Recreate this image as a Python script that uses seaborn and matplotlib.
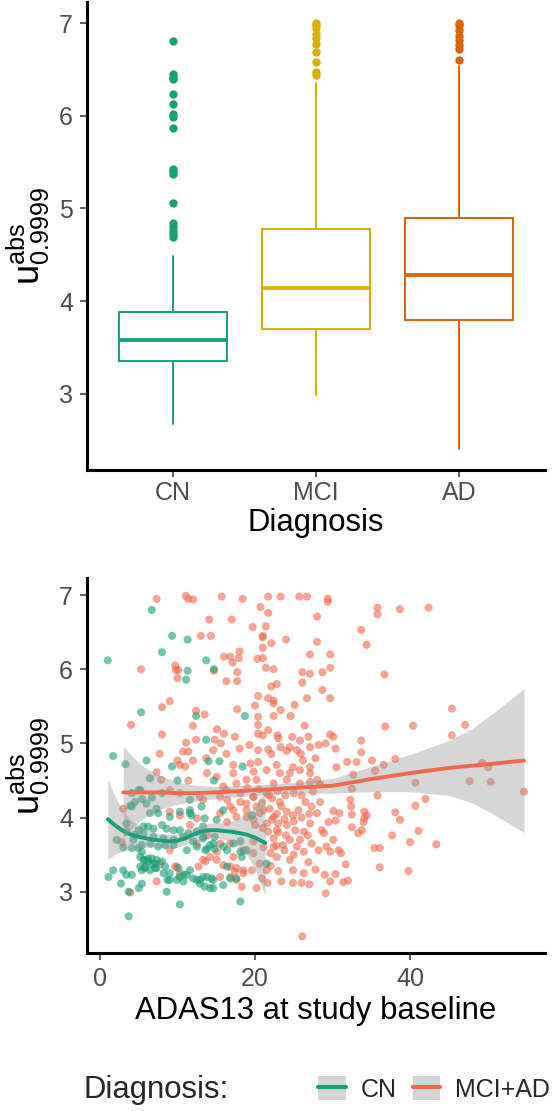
import numpy as np
import pandas as pd
import matplotlib
matplotlib.use("Agg")
import matplotlib.pyplot as plt
import seaborn as sns
from matplotlib.lines import Line2D
from matplotlib.patches import Patch
from matplotlib.legend_handler import HandlerTuple

# ---------------- data: top panel (box summaries) ----------------
box_labels = ["CN", "MCI", "AD"]
box_q1 = [3.35, 3.70, 3.79]
box_med = [3.58, 4.14, 4.28]
box_q3 = [3.88, 4.78, 4.90]
box_wlo = [2.67, 2.99, 2.40]
box_whi = [4.49, 6.35, 6.54]
cn_out = [6.81, 6.45, 6.42, 6.40, 6.24, 6.13, 6.02, 5.99, 5.87, 5.43, 5.40, 5.37,
          5.06, 4.84, 4.80, 4.76, 4.72, 4.69]
mci_out = [7.00, 6.98, 6.95, 6.88, 6.84, 6.78, 6.69, 6.58, 6.47, 6.44]
ad_out = [7.00, 6.98, 6.93, 6.86, 6.82, 6.77, 6.72, 6.60]

# ---------------- data: bottom panel scatter ----------------
cn_pts = [
    (6.67, 6.80), (9.3, 6.45), (11.3, 6.40), (8.0, 6.23), (1.0, 6.12), (13.7, 6.12),
    (11.3, 5.98), (11.1, 5.86), (5.3, 5.42), (12.4, 5.37), (13.7, 5.05), (1.7, 4.83),
    (6.0, 4.77), (3.3, 4.72), (9.3, 4.69), (14.7, 6.0), (18.7, 5.37), (14.0, 4.76),
    (15.4, 4.76), (18.4, 4.69),
    (6.45, 4.53), (10.0, 4.50), (5.4, 4.25), (6.7, 4.27), (4.1, 4.15), (4.5, 4.21),
    (6.0, 4.19), (7.3, 4.12), (9.0, 4.01), (11.6, 4.10), (11.8, 4.03), (13.1, 4.15),
    (13.5, 3.99), (3.4, 3.92), (2.15, 3.70), (3.0, 3.60), (4.1, 3.59), (5.0, 3.83),
    (5.6, 3.88), (6.2, 3.88), (6.9, 3.85), (8.0, 3.90), (8.6, 3.85), (9.5, 3.83),
    (10.3, 3.83), (11.4, 3.79), (12.5, 3.81), (13.3, 3.74), (4.3, 3.70), (5.4, 3.63),
    (6.5, 3.65), (7.5, 3.61), (8.4, 3.63), (9.5, 3.63), (11.2, 3.56), (12.5, 3.61),
    (13.6, 3.56), (5.2, 3.47), (5.6, 3.43), (6.2, 3.45), (6.7, 3.38), (7.3, 3.43),
    (8.0, 3.41), (8.4, 3.34), (5.8, 3.34), (5.4, 3.29), (7.1, 3.32), (9.0, 3.25),
    (10.1, 3.32), (10.8, 3.23), (11.6, 3.29), (12.0, 3.18), (12.9, 3.16), (13.8, 3.20),
    (1.1, 3.20), (1.7, 3.29), (3.0, 3.29), (3.4, 3.23), (4.1, 3.23), (2.7, 3.11),
    (5.4, 3.11), (5.0, 3.05), (3.7, 3.0), (8.6, 3.0), (10.3, 2.83), (3.7, 2.67),
    (8.7, 3.16), (5.2, 4.37), (4.1, 4.33), (8.0, 4.33), (11.6, 4.24),
    (14.7, 4.50), (15.9, 4.10), (15.05, 3.97), (19.6, 4.03), (13.3, 3.88), (14.8, 3.74),
    (14.2, 3.63), (13.8, 3.58), (14.8, 3.58), (16.4, 3.56), (18.1, 3.68), (18.3, 3.47),
    (21.5, 3.38), (16.4, 3.34), (13.3, 3.20), (14.4, 3.18), (14.6, 3.05), (15.9, 3.09),
    (16.8, 3.18), (17.6, 3.18), (18.1, 2.87),
    (4.95, 3.59), (5.4, 3.54), (5.8, 3.43), (6.2, 3.41), (6.7, 3.45), (7.1, 3.38),
    (5.2, 3.34), (5.8, 3.32), (6.45, 3.29), (7.3, 3.32), (8.2, 3.25), (9.0, 3.16),
    (9.9, 3.16), (10.3, 3.20), (10.75, 3.14), (11.2, 3.23), (12.5, 3.16), (12.9, 3.11),
    (13.5, 3.07), (14.2, 3.05), (14.6, 3.16), (3.4, 3.81), (4.5, 3.77), (5.6, 3.79),
    (6.9, 3.74), (8.2, 3.72), (9.5, 3.70), (10.75, 3.74), (12.0, 3.68), (13.3, 3.72),
    (14.6, 3.65), (15.9, 3.61), (17.2, 3.65), (18.1, 3.54), (18.9, 3.56),
    (5.0, 4.37), (3.9, 4.16), (6.45, 4.06), (7.5, 4.06), (10.3, 4.08), (11.6, 4.06),
]
mad_pts = [
    (7.3, 6.95), (11.06, 6.99), (11.4, 6.95), (12.0, 6.94), (14.1, 6.67), (13.0, 6.45),
    (14.3, 6.45), (5.3, 6.0), (9.7, 6.05), (9.8, 5.99), (10.1, 5.99), (10.0, 5.88),
    (9.0, 5.57), (8.0, 5.49), (12.4, 5.44), (13.5, 5.39), (4.0, 5.25), (12.0, 5.24),
    (8.0, 5.12), (12.4, 5.05), (11.1, 5.01), (7.7, 4.86), (10.7, 4.89), (11.4, 4.89),
    (10.0, 4.77), (12.0, 4.77), (13.7, 4.80), (10.3, 4.71), (11.0, 4.69),
    (15.7, 6.98), (18.4, 6.95), (21.7, 6.98), (23.3, 6.98), (25.7, 6.98), (26.7, 6.98),
    (20.7, 6.84), (17.0, 6.67), (21.7, 6.76), (28.0, 6.71), (19.7, 6.57), (21.4, 6.58),
    (21.0, 6.45), (21.0, 6.43), (22.1, 6.35), (24.0, 6.40), (21.0, 6.29), (28.0, 6.37),
    (18.0, 6.24), (16.0, 6.17), (16.8, 6.17), (17.9, 6.15), (20.3, 6.14), (21.0, 6.15),
    (17.1, 6.09), (27.1, 6.20), (14.7, 5.98), (21.4, 6.02), (22.4, 6.0), (17.7, 5.96),
    (26.1, 5.96), (27.1, 5.94), (16.3, 5.84), (17.7, 5.84), (26.1, 5.82), (22.1, 5.77),
    (22.8, 5.80), (20.4, 5.64), (21.7, 5.61), (22.4, 5.58), (22.4, 5.54), (26.7, 5.61),
    (20.0, 5.51), (25.1, 5.52), (17.7, 5.46), (20.4, 5.36), (22.4, 5.37), (24.6, 5.37),
    (23.3, 5.45), (26.4, 5.24), (20.4, 5.25), (20.4, 5.13), (21.7, 5.18), (15.1, 5.19),
    (16.0, 5.13), (17.4, 5.09), (21.0, 5.11), (22.9, 5.11), (23.0, 5.07), (24.8, 5.09),
    (25.8, 5.04), (26.9, 5.09), (14.8, 5.05), (15.6, 5.0), (18.0, 4.93), (19.3, 4.98),
    (20.4, 4.91), (21.7, 4.92), (23.3, 4.95), (24.5, 4.95), (25.4, 4.91), (27.1, 4.95),
    (28.2, 4.98), (14.6, 4.91), (16.3, 4.86), (22.1, 4.86), (24.1, 4.90), (25.9, 4.86),
    (27.8, 4.80), (26.2, 4.77), (19.4, 4.73), (17.2, 4.71), (20.4, 4.75), (22.8, 4.71),
    (24.9, 4.68), (27.1, 4.68),
    (29.4, 6.95), (29.4, 6.91), (35.8, 6.83), (35.8, 6.74), (38.7, 6.81), (42.4, 6.83),
    (33.7, 6.53), (34.4, 6.33), (29.7, 6.20), (29.7, 6.02), (28.7, 5.96), (36.7, 5.93),
    (29.7, 5.61), (28.7, 5.72), (45.4, 5.47), (36.8, 5.23), (40.4, 5.24), (47.1, 5.25),
    (45.4, 5.11), (33.7, 5.04), (33.7, 4.88), (30.4, 4.93), (29.7, 5.12), (30.1, 5.09),
    (29.1, 5.0), (38.1, 4.79), (33.1, 4.75), (35.1, 4.77), (36.6, 4.71), (30.5, 4.68),
    (31.9, 4.75), (49.3, 4.74), (50.1, 4.68), (32.7, 4.58), (35.5, 4.63),
    (28.4, 4.45), (32.5, 4.39), (35.8, 4.30), (40.7, 4.47), (47.7, 4.49), (50.4, 4.48),
    (54.7, 4.35), (42.0, 4.25), (40.7, 4.16), (38.1, 4.07), (38.7, 3.97), (41.1, 3.82),
    (37.7, 3.76), (40.0, 3.67), (43.4, 3.64), (35.4, 3.59), (36.1, 3.59), (36.1, 3.33),
    (39.8, 3.28), (28.4, 4.21), (30.1, 4.09), (30.9, 4.06), (32.3, 4.24), (32.4, 4.15),
    (32.5, 4.04), (34.1, 4.08), (34.4, 4.03), (34.0, 3.94), (34.1, 3.99), (33.3, 3.79),
    (33.8, 3.83), (32.5, 3.87), (29.5, 3.94), (30.4, 3.96), (28.6, 3.83), (28.9, 3.79),
    (30.1, 3.70), (29.2, 3.61), (29.7, 3.54), (30.8, 3.56), (31.1, 3.52), (31.7, 3.37),
    (30.4, 3.24), (29.0, 3.23), (32.0, 3.15), (31.4, 3.13), (29.7, 3.14), (29.1, 2.98),
    (26.1, 2.40),
    (7.3, 4.61), (7.9, 4.51), (11.4, 4.50), (3.0, 4.12), (9.0, 4.08), (10.3, 4.03),
    (12.5, 3.99), (7.3, 3.14), (9.7, 3.34), (10.3, 3.25), (12.7, 3.34), (13.6, 3.41),
    (3.9, 2.99), (2.8, 3.67), (9.0, 3.56), (13.8, 3.76), (11.6, 3.90), (12.5, 3.65),
    (10.3, 4.33), (9.0, 4.37), (12.9, 4.28),
    (13.8, 4.60), (15.05, 4.55), (17.2, 4.60), (19.8, 4.62), (21.5, 4.64), (23.2, 4.60),
    (24.5, 4.60), (25.8, 4.64), (27.1, 4.60), (28.0, 4.51), (13.3, 4.24), (15.9, 4.42),
    (17.6, 4.46), (18.9, 4.51), (20.2, 4.51), (22.4, 4.46), (24.1, 4.51), (25.8, 4.46),
    (27.1, 4.48), (18.1, 4.21), (18.9, 4.19), (19.8, 4.28), (20.2, 4.15), (21.1, 4.10),
    (22.2, 4.26), (23.2, 4.21), (23.4, 4.15), (24.1, 4.08), (24.9, 4.03), (25.6, 4.10),
    (26.5, 4.21), (27.3, 4.15), (28.0, 4.06), (22.2, 3.97), (23.0, 3.92), (24.1, 3.90),
    (25.2, 3.83), (26.3, 3.81), (27.1, 3.92), (21.7, 3.81), (22.4, 3.72), (23.6, 3.63),
    (23.8, 3.56), (24.5, 3.70), (25.4, 3.61), (26.3, 3.54), (27.3, 3.65), (28.2, 3.56),
    (22.8, 3.47), (24.5, 3.43), (24.9, 3.29), (23.4, 3.14), (24.9, 3.12), (26.0, 3.12),
    (26.3, 3.25), (15.5, 4.28), (16.4, 4.24), (17.2, 4.10), (18.9, 4.01), (16.4, 3.94),
    (15.5, 3.65), (16.8, 3.65), (18.5, 3.56), (19.8, 3.68), (13.3, 3.43), (14.2, 3.47),
    (15.05, 3.43), (17.2, 3.47), (16.8, 3.34), (17.6, 3.32), (15.5, 3.20), (18.3, 3.07),
    (17.4, 3.27), (18.5, 3.25), (19.6, 3.29), (20.9, 3.18),
    (7.7, 3.38), (9.9, 3.34), (15.05, 3.54), (15.9, 3.36), (16.8, 3.20), (17.6, 3.16),
    (18.5, 3.29), (19.8, 3.52), (20.6, 3.38), (21.5, 3.29), (22.4, 3.61), (22.8, 3.83),
    (15.5, 4.06), (16.8, 4.15), (17.6, 4.01), (18.9, 4.10), (19.8, 3.97), (20.6, 4.06),
    (21.5, 3.92), (22.4, 4.01), (18.1, 4.33), (19.8, 4.28), (21.5, 4.33), (16.3, 4.37),
    (19.0, 4.40), (20.5, 4.38), (21.8, 4.30), (22.9, 4.36), (23.9, 4.30), (25.0, 4.33),
    (26.0, 4.30), (27.5, 4.35), (20.9, 4.20), (21.9, 4.12), (22.8, 4.05), (23.8, 3.98),
    (25.0, 3.95), (26.0, 4.00), (27.0, 4.05), (20.0, 3.90), (21.0, 3.86), (23.0, 3.80),
    (24.0, 3.76), (25.8, 3.70), (26.8, 3.76), (21.1, 3.60), (22.0, 3.52), (22.8, 3.62),
    (25.0, 3.50), (26.9, 3.40), (27.8, 3.30), (22.0, 3.35), (23.0, 3.28), (20.2, 3.05),
    (21.6, 3.12), (27.0, 3.10),
]

# ---------------- data: smooth fits ----------------
cn_sx = [1.0, 2.0, 3.0, 4.0, 5.0, 6.0, 7.0, 8.0, 9.0, 10.0, 11.0, 12.0, 13.0, 14.0,
         15.0, 16.0, 17.0, 18.0, 19.0, 20.0, 21.3]
cn_sy = [3.98, 3.89, 3.82, 3.77, 3.74, 3.72, 3.70, 3.69, 3.68, 3.69, 3.72, 3.77, 3.81,
         3.83, 3.83, 3.82, 3.81, 3.79, 3.77, 3.73, 3.66]
cn_hi = [4.52, 4.27, 4.09, 3.97, 3.89, 3.84, 3.80, 3.78, 3.77, 3.78, 3.81, 3.86, 3.90,
         3.92, 3.93, 3.93, 3.95, 3.99, 4.05, 4.15, 4.37]
cn_lo = [3.44, 3.51, 3.55, 3.57, 3.59, 3.60, 3.60, 3.60, 3.59, 3.60, 3.63, 3.68, 3.72,
         3.74, 3.73, 3.71, 3.67, 3.59, 3.49, 3.31, 2.95]
mad_sx = [3.0, 4.0, 5.0, 6.0, 8.0, 10.0, 12.0, 15.0, 20.0, 25.0, 30.0, 35.0, 40.0,
          45.0, 48.0, 51.0, 54.7]
mad_sy = [4.34, 4.34, 4.34, 4.34, 4.34, 4.33, 4.33, 4.34, 4.37, 4.40, 4.43, 4.52, 4.60,
          4.67, 4.70, 4.73, 4.77]
mad_hi = [4.96, 4.84, 4.74, 4.66, 4.56, 4.48, 4.44, 4.42, 4.44, 4.47, 4.53, 4.69, 4.85,
          5.04, 5.20, 5.43, 5.74]
mad_lo = [3.72, 3.84, 3.94, 4.02, 4.12, 4.18, 4.22, 4.26, 4.30, 4.33, 4.33, 4.35, 4.35,
          4.30, 4.20, 4.03, 3.80]

y_ticks = [3, 4, 5, 6, 7]
x_ticks = [0, 20, 40]
legend_labels = ["CN", "MCI+AD"]

# ---------------- style ----------------
sns.set_theme(style="ticks")
plt.rcParams["font.family"] = ["Liberation Sans", "DejaVu Sans"]
plt.rcParams["mathtext.fontset"] = "custom"
plt.rcParams["mathtext.rm"] = "Liberation Sans"
plt.rcParams["mathtext.it"] = "Liberation Sans"
plt.rcParams["mathtext.default"] = "regular"

box_colors = ["#17a078", "#d6b009", "#dd6208"]
c_cn = "#1b9e77"
c_mad = "#ee6950"
tick_col = "#4d4d4d"

W, H = 555, 1111
fig = plt.figure(figsize=(W / 100, H / 100), dpi=100)
ax1 = fig.add_axes([87 / W, (H - 470) / H, 458 / W, 468 / H])
ax2 = fig.add_axes([87 / W, (H - 953) / H, 458 / W, 375 / H])


def style_axis(ax):
    for s in ["top", "right"]:
        ax.spines[s].set_visible(False)
    for s in ["left", "bottom"]:
        ax.spines[s].set_linewidth(2.2)
        ax.spines[s].set_color("black")
    ax.tick_params(length=5, width=1.1, color="#333333", labelsize=18,
                   labelcolor=tick_col, pad=5)


# ---------------- top panel: boxplots ----------------
outs = [cn_out, mci_out, ad_out]
for i, (lab, col) in enumerate(zip(box_labels, box_colors)):
    st = dict(med=box_med[i], q1=box_q1[i], q3=box_q3[i], whislo=box_wlo[i],
              whishi=box_whi[i], fliers=outs[i], label=lab)
    ax1.bxp([st], positions=[i + 1], widths=0.75, showcaps=False, patch_artist=True,
            boxprops=dict(facecolor="white", edgecolor=col, linewidth=1.4),
            medianprops=dict(color=col, linewidth=2.7, solid_capstyle="butt"),
            whiskerprops=dict(color=col, linewidth=1.4),
            flierprops=dict(marker="o", markerfacecolor=col, markeredgecolor=col,
                            markersize=5))
ax1.set_xlim(0.4, 3.6)
ax1.set_ylim(2.175, 7.23)
ax1.set_xticks([1, 2, 3])
ax1.set_xticklabels(box_labels)
ax1.set_yticks(y_ticks)
ax1.set_yticklabels([str(t) for t in y_ticks])
style_axis(ax1)
ax1.tick_params(axis="x", pad=3)
ax1.set_xlabel("Diagnosis", fontsize=22.4, color="black", labelpad=2)
ax1.set_ylabel(r"$u^{abs}_{0.9999}$", fontsize=26, color="black", labelpad=5)

# ---------------- bottom panel: scatter + smooths ----------------
df = pd.DataFrame(
    [(x, y, "MCI+AD") for x, y in mad_pts] + [(x, y, "CN") for x, y in cn_pts],
    columns=["adas", "u", "dx"])
sns.scatterplot(data=df, x="adas", y="u", hue="dx",
                palette={"CN": c_cn, "MCI+AD": c_mad}, s=34, alpha=0.6,
                linewidth=0, legend=False, ax=ax2, zorder=1)
ax2.fill_between(cn_sx, cn_lo, cn_hi, color="#999999", alpha=0.4, lw=0, zorder=2)
sns.lineplot(x=cn_sx, y=cn_sy, color=c_cn, lw=2.8, sort=False, ax=ax2, zorder=3)
ax2.fill_between(mad_sx, mad_lo, mad_hi, color="#999999", alpha=0.4, lw=0, zorder=4)
sns.lineplot(x=mad_sx, y=mad_sy, color=c_mad, lw=2.8, sort=False, ax=ax2, zorder=5)
ax2.set_xlim(-1.68, 57.42)
ax2.set_ylim(2.175, 7.23)
ax2.set_xticks(x_ticks)
ax2.set_xticklabels([str(t) for t in x_ticks])
ax2.set_yticks(y_ticks)
ax2.set_yticklabels([str(t) for t in y_ticks])
style_axis(ax2)
ax2.set_xlabel("ADAS13 at study baseline", fontsize=22.4, color="black", labelpad=4)
ax2.set_ylabel(r"$u^{abs}_{0.9999}$", fontsize=26, color="black", labelpad=5)

# ---------------- legend ----------------
bg = Patch(facecolor="#999999", alpha=0.4, edgecolor="none")
h_cn = (bg, Line2D([], [], color=c_cn, lw=3))
h_mad = (bg, Line2D([], [], color=c_mad, lw=3))
fig.legend(handles=[h_cn, h_mad], labels=legend_labels,
           handler_map={tuple: HandlerTuple(ndivide=1, pad=0)},
           ncol=2, frameon=False, loc="center left",
           bbox_to_anchor=(318 / W, 1 - 1089 / H), fontsize=18,
           handlelength=1.1, handleheight=1.1, handletextpad=0.6,
           columnspacing=0.65, borderpad=0, borderaxespad=0)
fig.text(84 / W, 1 - 1090 / H, "Diagnosis:", fontsize=22.4, va="center", ha="left")

fig.savefig("out.png", dpi=100)
